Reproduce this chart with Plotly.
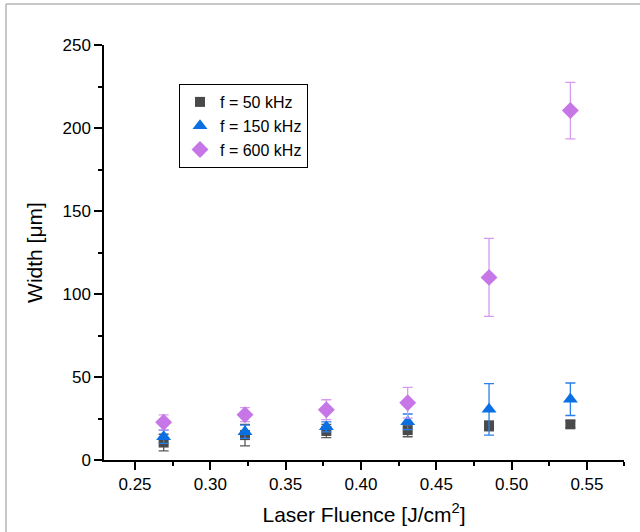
import plotly.graph_objects as go

fluence = [0.269, 0.323, 0.377, 0.431, 0.485, 0.539]

w50 = [10.5, 15.0, 17.5, 18.0, 20.5, 21.5]
e50 = [5.0, 6.5, 4.0, 4.0, 3.0, 2.0]

w150 = [14.0, 17.0, 20.0, 23.0, 30.5, 36.6]
e150 = [4.0, 4.0, 3.0, 4.7, 15.5, 9.8]

w600 = [22.7, 27.3, 30.3, 34.5, 110.0, 210.5]
e600 = [4.5, 4.2, 6.0, 9.3, 23.5, 17.0]

names = ["f = 50 kHz", "f = 150 kHz", "f = 600 kHz"]

W, H = 640, 532
L, R, T, B = 104, 16, 45, 72
pw, ph = W - L - R, H - T - B

fig = go.Figure()
series = [
    (w50, e50, names[0], "square", 10, "#4a4a4a", "#5a5a5a"),
    (w150, e150, names[1], "triangle-up", 13, "#0a6fe3", "#2a80e8"),
    (w600, e600, names[2], "diamond", 13, "#c676e6", "#d69af0"),
]
for ys, es, nm, sym, sz, col, ecol in series:
    fig.add_trace(go.Scatter(
        x=fluence, y=ys, mode="markers", name=nm,
        marker=dict(symbol=sym, size=sz, color=col, line=dict(width=0)),
        error_y=dict(type="data", array=es, visible=True, color=ecol,
                     thickness=1.3, width=5),
    ))

def px2x(px):
    return (px - L) / pw

def py2y(py):
    return (H - B - py) / ph

fig.update_layout(
    width=W, height=H,
    margin=dict(l=L, r=R, t=T, b=B, autoexpand=False),
    paper_bgcolor="white", plot_bgcolor="white",
    font=dict(family="Liberation Sans, Arial, sans-serif", color="black"),
    showlegend=True,
    legend=dict(
        x=px2x(179), y=py2y(84), xanchor="left", yanchor="top",
        bordercolor="black", borderwidth=1, bgcolor="white",
        font=dict(size=16), tracegroupgap=0, itemwidth=30,
    ),
    xaxis=dict(
        range=[0.2294, 0.5746], showgrid=False, zeroline=False, automargin=False,
        showline=True, linecolor="black", linewidth=1.5,
        tickmode="array", tickvals=[0.25, 0.30, 0.35, 0.40, 0.45, 0.50, 0.55],
        ticktext=["0.25", "0.30", "0.35", "0.40", "0.45", "0.50", "0.55"],
        ticks="outside", ticklen=8, tickwidth=1.5, tickcolor="black",
        minor=dict(tickvals=[0.275, 0.325, 0.375, 0.425, 0.475, 0.525, 0.5746],
                   ticks="outside", ticklen=4, tickwidth=1.5, tickcolor="black"),
        tickfont=dict(size=17),
        title=dict(text="Laser Fluence [J/cm<sup>2</sup>]", font=dict(size=21), standoff=14),
    ),
    yaxis=dict(
        range=[0, 250], showgrid=False, zeroline=False, automargin=False,
        showline=True, linecolor="black", linewidth=1.5,
        tickmode="array", tickvals=[0, 50, 100, 150, 200, 250],
        ticks="outside", ticklen=8, tickwidth=1.5, tickcolor="black",
        minor=dict(tickvals=[25, 75, 125, 175, 225],
                   ticks="outside", ticklen=4, tickwidth=1.5, tickcolor="black"),
        tickfont=dict(size=17),
        title=dict(text="Width [μm]", font=dict(size=21), standoff=14),
    ),
    shapes=[
        dict(type="line", xref="paper", yref="paper",
             x0=px2x(6), x1=px2x(640), y0=py2y(4), y1=py2y(4),
             line=dict(color="#b5b5b5", width=1.5)),
        dict(type="line", xref="paper", yref="paper",
             x0=px2x(6), x1=px2x(6), y0=py2y(4), y1=py2y(532),
             line=dict(color="#b5b5b5", width=1.5)),
    ],
)

fig.write_html("out.html")
